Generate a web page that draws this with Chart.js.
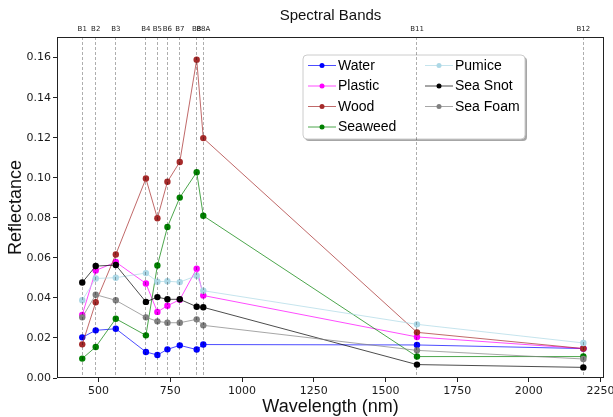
<!DOCTYPE html>
<html><head><meta charset="utf-8">
<script src="https://cdn.jsdelivr.net/npm/chart.js@4.4.1/dist/chart.umd.min.js"></script>
<style>html,body{margin:0;padding:0;background:#fff;overflow:hidden}</style>
</head><body>
<canvas id="c" width="613" height="417" style="display:block;width:613px;height:417px"></canvas>
<script>
const wavelengths = [443, 490, 560, 665, 705, 740, 783, 842, 865, 1610, 2190];
const bandNames = ['B1','B2','B3','B4','B5','B6','B7','B8','B8A','B11','B12'];
const seriesNames = ['Water','Plastic','Wood','Seaweed','Pumice','Sea Snot','Sea Foam'];
const water    = [0.0203, 0.0238, 0.0246, 0.0130, 0.0115, 0.0143, 0.0163, 0.0142, 0.0167, 0.0165, 0.0147];
const plastic  = [0.0315, 0.0537, 0.0579, 0.0472, 0.0330, 0.0361, 0.0391, 0.0546, 0.0412, 0.0205, 0.0147];
const wood     = [0.0168, 0.0378, 0.0617, 0.0996, 0.0798, 0.0980, 0.1079, 0.1590, 0.1198, 0.0228, 0.0147];
const seaweed  = [0.0097, 0.0155, 0.0296, 0.0213, 0.0562, 0.0754, 0.0901, 0.1028, 0.0810, 0.0107, 0.0107];
const pumice   = [0.0388, 0.0497, 0.0501, 0.0524, 0.0481, 0.0483, 0.0479, 0.0511, 0.0436, 0.0268, 0.0175];
const seaSnot  = [0.0477, 0.0559, 0.0564, 0.0380, 0.0404, 0.0393, 0.0393, 0.0356, 0.0353, 0.0067, 0.0053];
const seaFoam  = [0.0303, 0.0416, 0.0388, 0.0303, 0.0283, 0.0276, 0.0276, 0.0293, 0.0263, 0.0138, 0.0095];
const xTicks = [500, 750, 1000, 1250, 1500, 1750, 2000, 2250];
const yTicks = [0, 0.02, 0.04, 0.06, 0.08, 0.10, 0.12, 0.14, 0.16];

const allSeries = [water, plastic, wood, seaweed, pumice, seaSnot, seaFoam];
const colors = ['0,0,255','255,0,255','165,42,42','0,128,0','173,216,230','0,0,0','128,128,128'];

const datasets = allSeries.map((vals, i) => ({
  label: seriesNames[i],
  data: wavelengths.map((w, j) => ({x: w, y: vals[j]})),
  borderColor: 'rgba(' + colors[i] + ',0.7)',
  backgroundColor: 'rgb(' + colors[i] + ')',
  pointBackgroundColor: 'rgb(' + colors[i] + ')',
  pointBorderColor: 'rgb(' + colors[i] + ')',
  pointBorderWidth: 0,
  pointRadius: 3.2,
  borderWidth: 1,
  tension: 0,
  fill: false,
  order: allSeries.length - i
}));

function noPad(s) { s.paddingLeft = 0; s.paddingRight = 0; s.paddingTop = 0; s.paddingBottom = 0; }

const frameLegend = {
  id: 'frameLegend',
  afterDatasetsDraw(chart) {
    const ctx = chart.ctx;
    const bx = 303, by = 55, bw = 222, bh = 84, r = 4;
    function rr(x, y, w, h) {
      ctx.beginPath();
      ctx.moveTo(x + r, y);
      ctx.arcTo(x + w, y, x + w, y + h, r);
      ctx.arcTo(x + w, y + h, x, y + h, r);
      ctx.arcTo(x, y + h, x, y, r);
      ctx.arcTo(x, y, x + w, y, r);
      ctx.closePath();
    }
    ctx.save();
    rr(bx + 2, by + 2, bw, bh);
    ctx.fillStyle = 'rgba(0,0,0,0.35)';
    ctx.fill();
    rr(bx, by, bw, bh);
    ctx.fillStyle = '#fff';
    ctx.fill();
    ctx.strokeStyle = '#cccccc';
    ctx.lineWidth = 1;
    ctx.stroke();
    ctx.font = '14px "Liberation Sans", Arial, sans-serif';
    ctx.textBaseline = 'middle';
    ctx.textAlign = 'left';
    chart.data.datasets.forEach((ds, i) => {
      const col = i < 4 ? 0 : 1;
      const row = i < 4 ? i : i - 4;
      const x0 = col === 0 ? 308 : 425;
      const y = 65.5 + row * 20.5;
      ctx.strokeStyle = ds.borderColor;
      ctx.lineWidth = 1;
      ctx.beginPath();
      ctx.moveTo(x0, y);
      ctx.lineTo(x0 + 28, y);
      ctx.stroke();
      ctx.fillStyle = ds.pointBackgroundColor;
      ctx.beginPath();
      ctx.arc(x0 + 14, y, 2.5, 0, Math.PI * 2);
      ctx.fill();
      ctx.fillStyle = '#000';
      ctx.fillText(ds.label, x0 + 30, y + 0.5);
    });
    ctx.restore();
  },
  afterDraw(chart) {
    const a = chart.chartArea;
    const ctx = chart.ctx;
    ctx.save();
    ctx.strokeStyle = '#222';
    ctx.lineWidth = 1;
    ctx.strokeRect(Math.round(a.left) + 0.5, Math.round(a.top) + 0.5, Math.round(a.right - a.left) - 1, Math.round(a.bottom - a.top) - 1);
    ctx.restore();
  }
};

new Chart(document.getElementById('c'), {
  type: 'line',
  data: { datasets },
  options: {
    responsive: false,
    devicePixelRatio: 1,
    animation: false,
    layout: { padding: { left: 0, right: 9, top: 0, bottom: 0 } },
    plugins: { legend: { display: false }, tooltip: { enabled: false } },
    scales: {
      x: {
        type: 'linear', position: 'bottom', min: 355, max: 2262,
        afterBuildTicks: s => { s.ticks = xTicks.map(v => ({ value: v })); },
        afterFit: s => { s.height = 39; noPad(s); },
        ticks: { autoSkip: false, maxRotation: 0, padding: 3, color: '#1a1a1a',
          font: { family: 'DejaVu Sans', size: 11 }, callback: v => String(v) },
        grid: { drawOnChartArea: false, drawTicks: true, tickLength: 4, tickColor: '#222', tickWidth: 1 },
        border: { display: false },
        title: { display: true, text: 'Wavelength (nm)', color: '#111',
          font: { family: 'Liberation Sans', size: 18, lineHeight: 1.1 }, padding: { top: 0, bottom: 0 } }
      },
      x2: {
        type: 'linear', position: 'top', min: 355, max: 2262,
        afterBuildTicks: s => { s.ticks = wavelengths.map(v => ({ value: v })); },
        afterFit: s => { s.height = 37; noPad(s); },
        ticks: { autoSkip: false, maxRotation: 0, padding: 4, color: '#222',
          font: { family: 'DejaVu Sans', size: 7 }, callback: (v, i) => bandNames[i] },
        grid: { drawOnChartArea: true, drawTicks: false, color: 'rgba(0,0,0,0.4)', lineWidth: 0.8, z: 1 },
        border: { display: false, dash: [3, 2] },
        title: { display: true, text: 'Spectral Bands', color: '#111',
          font: { family: 'Liberation Sans', size: 15, lineHeight: 1.2 }, padding: { top: 7, bottom: 0 } }
      },
      y: {
        type: 'linear', position: 'left', min: 0, max: 0.1703,
        afterBuildTicks: s => { s.ticks = yTicks.map(v => ({ value: v })); },
        afterFit: s => { s.width = 57; noPad(s); },
        ticks: { padding: 2, color: '#1a1a1a', font: { family: 'DejaVu Sans', size: 11 },
          callback: v => Number(v).toFixed(2) },
        grid: { drawOnChartArea: false, drawTicks: true, tickLength: 4, tickColor: '#222', tickWidth: 1 },
        border: { display: false },
        title: { display: true, text: 'Reflectance', color: '#111',
          font: { family: 'Liberation Sans', size: 18, lineHeight: 1.2 }, padding: { top: 5, bottom: 0 } }
      }
    }
  },
  plugins: [frameLegend]
});
</script>
</body></html>
